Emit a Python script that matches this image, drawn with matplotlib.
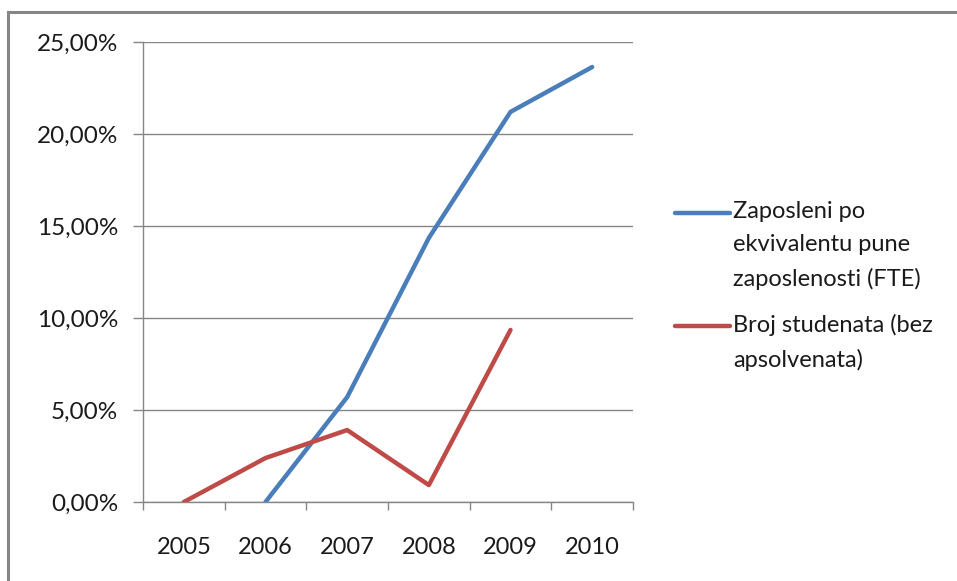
import matplotlib
matplotlib.use("Agg")
import matplotlib.pyplot as plt
from matplotlib.lines import Line2D
import numpy as np

years = ["2005", "2006", "2007", "2008", "2009", "2010"]
fte = [np.nan, 0.0, 5.7, 14.35, 21.2, 23.64]
studenti = [0.0, 2.39, 3.91, 0.92, 9.35, np.nan]
y_ticks = [0, 5, 10, 15, 20, 25]
label_fte = "Zaposleni po\nekvivalentu pune\nzaposlenosti (FTE)"
label_stud = "Broj studenata (bez\napsolvenata)"

plt.rcParams['font.family'] = ['Lato', 'DejaVu Sans']

W, H = 957, 581
fig = plt.figure(figsize=(W / 100, H / 100), dpi=100)
ax = fig.add_axes([143 / W, 79 / H, 490 / W, 460 / H])

GRAY = "#868686"
TXT = "#1a1a1a"
BLUE = "#4a7ebb"
RED = "#be4b48"

# outer chart frame
fig.add_artist(Line2D([8 / W, 1.0], [1 - 12 / H, 1 - 12 / H], color=GRAY, lw=2.2, transform=fig.transFigure))
fig.add_artist(Line2D([8 / W, 8 / W], [0, 1 - 12 / H], color=GRAY, lw=2.2, transform=fig.transFigure))

x = np.arange(len(years))
ax.plot(x, fte, color=BLUE, lw=3.2, solid_capstyle="round", solid_joinstyle="round", label=label_fte)
ax.plot(x, studenti, color=RED, lw=3.2, solid_capstyle="round", solid_joinstyle="round", label=label_stud)

ax.set_xlim(-0.5, len(years) - 0.5)
ax.set_ylim(0, 25)
ax.set_yticks(y_ticks)
ax.set_yticklabels([f"{v:.2f}%".replace(".", ",") for v in y_ticks], fontsize=17.5, color=TXT)
ax.set_xticks(x)
ax.set_xticklabels(years, fontsize=17, color=TXT)
ax.tick_params(axis="x", length=0, pad=25)
ax.set_xticks(np.arange(-0.5, len(years)), minor=True)
ax.tick_params(axis="x", which="minor", length=6, color=GRAY, width=1)
ax.tick_params(axis="y", length=7, color=GRAY, width=1, pad=11)

ax.grid(axis="y", color=GRAY, lw=1)
ax.set_axisbelow(True)
for s in ["top", "right"]:
    ax.spines[s].set_visible(False)
for s in ["left", "bottom"]:
    ax.spines[s].set_color(GRAY)
    ax.spines[s].set_linewidth(1)

# legend (Excel style: key aligned with first text line)
for y_px, color, text in [(213, BLUE, label_fte), (326, RED, label_stud)]:
    yf = 1 - y_px / H
    fig.add_artist(Line2D([675 / W, 730 / W], [yf, yf], color=color, lw=3.2,
                          solid_capstyle="round", transform=fig.transFigure))
    fig.text(733 / W, 1 - (y_px - 12) / H, text, fontsize=17, color=TXT, va="top",
             ha="left", linespacing=1.72, transform=fig.transFigure)

fig.savefig("out.png", dpi=100)
